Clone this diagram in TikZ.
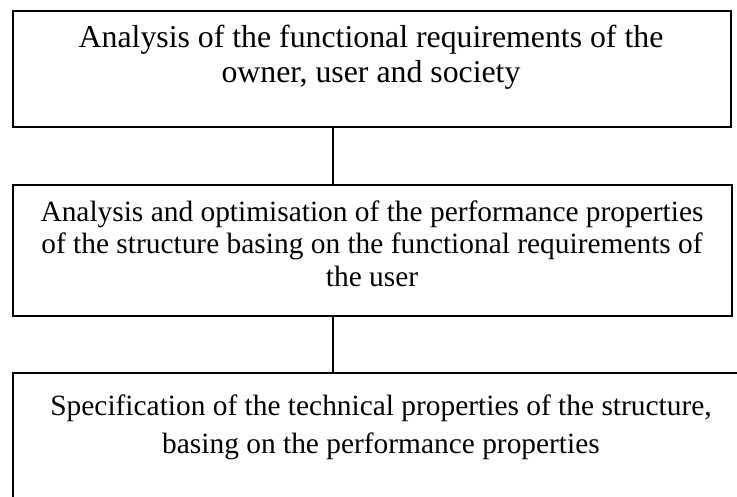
\documentclass[tikz,border=0pt]{standalone}
\usepackage{fontspec}
\setmainfont{Liberation Serif}
\begin{document}
\begin{tikzpicture}[x=1pt,y=-1pt,
  box/.style={draw=black,line width=1.6pt,inner sep=0pt,anchor=north west},
  txt/.style={anchor=base,inner sep=0pt,font=\fontsize{31.8}{36}\selectfont},
  txts/.style={anchor=base,inner sep=0pt,font=\fontsize{29.4}{34}\selectfont},
  link/.style={draw=black,line width=1.6pt}]
\useasboundingbox (0,0) rectangle (737,497);
\clip (0,0) rectangle (737,497);
\node[box,minimum width=718pt,minimum height=116pt] (b1) at (12,10) {};
\node[box,minimum width=719pt,minimum height=131pt] (b2) at (12,184) {};
\node[box,minimum width=738pt,minimum height=150pt] (b3) at (12,372) {};
\node[txt] (t11) at (371,48) {Analysis of the functional requirements of the};
\node[txt] (t12) at (371,83) {owner, user and society};
\node[txts] (t21) at (372,222) {Analysis and optimisation of the performance properties};
\node[txts] (t22) at (372,254) {of the structure basing on the functional requirements of};
\node[txts] (t23) at (372,287) {the user};
\node[txts] (t31) at (381,415) {Specification of the technical properties of the structure,};
\node[txts] (t32) at (381,453) {basing on the performance properties};
\coordinate (c1) at (333,0);
\draw[link] (b1.south -| c1) -- (b2.north -| c1);
\draw[link] (b2.south -| c1) -- (b3.north -| c1);
\end{tikzpicture}
\end{document}
